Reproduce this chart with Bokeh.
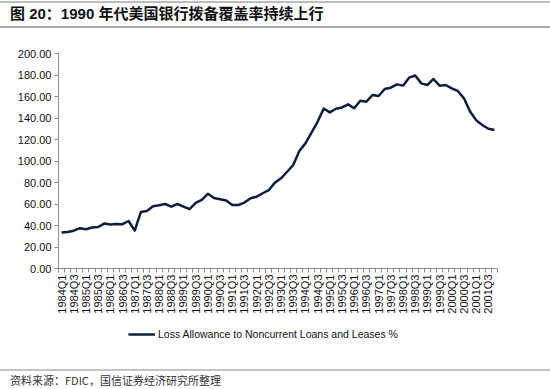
import math
from bokeh.plotting import figure
from bokeh.layouts import column
from bokeh.models import (FactorRange, Range1d, LinearAxis, FixedTicker, Div,
                          Legend, LegendItem, NumeralTickFormatter)
from bokeh.embed import file_html
from bokeh.resources import INLINE

# ---------------- data ----------------
years = list(range(1984, 2002))
quarters = [f"{y}Q{q}" for y in years for q in (1, 2, 3, 4)]
coverage = [
    33.5, 33.9, 35.2, 37.5, 36.5, 38.2, 38.6, 41.8, 40.9, 41.5, 41.2, 44.2,   # 1984-1986
    35.3, 52.5, 53.5, 58.0, 58.8, 60.0, 57.5, 60.0, 57.6, 55.2, 61.0, 63.8,   # 1987-1989
    69.5, 65.5, 64.5, 63.2, 59.1, 59.1, 61.3, 65.3, 66.8, 70.0, 73.0, 79.9,   # 1990-1992
    83.9, 90.0, 96.3, 109.3, 116.4, 126.3, 136.5, 148.9, 145.2, 148.6, 149.8, 152.7,  # 1993-1995
    149.0, 156.1, 155.2, 161.4, 160.5, 167.0, 168.2, 171.3, 170.1, 177.5, 179.5, 172.2,  # 1996-1998
    170.7, 176.3, 170.1, 170.7, 167.6, 165.1, 158.3, 146.0, 138.0, 133.5, 130.0, 128.8,  # 1999-2001
]
y_ticks = [0, 20, 40, 60, 80, 100, 120, 140, 160, 180, 200]
title_text = "图 20：1990 年代美国银行拨备覆盖率持续上行"
series_name = "Loss Allowance to Noncurrent Loans and Leases %"
source_text = "资料来源：FDIC，国信证券经济研究所整理"

W = 550
LATIN = "Liberation Sans"
AXIS_GREY = "#8e8e8e"
LINE_COL = "#0e1f3d"

# ---------------- header ----------------
HH = 40
head = Div(width=W, height=HH, styles={"margin": "0", "padding": "0", "overflow": "hidden"},
           text=(
               f'<div style="position:relative;width:{W}px;height:{HH}px;">'
               f'<div style="position:absolute;left:0;top:1px;width:{W}px;border-top:2px solid #bcbcbc;"></div>'
               f'<div style="position:absolute;left:10px;top:5px;white-space:nowrap;'
               f'font-family:\'Liberation Sans\',\'Noto Sans CJK SC\';font-weight:bold;'
               f'font-size:15px;line-height:18px;color:#111111;">{title_text}</div>'
               f'<div style="position:absolute;left:0;top:26px;width:{W}px;border-top:2px solid #a8a8a8;"></div>'
               f'</div>'))

# ---------------- main chart ----------------
MB_L, MB_R = 58, 53
MB_TOP, FRAME_H, MB_BOT = 13, 215, 52
p = figure(width=W, height=MB_TOP + FRAME_H + MB_BOT, output_backend="svg", toolbar_location=None,
           x_range=FactorRange(factors=quarters, range_padding=0),
           y_range=Range1d(0, 200), x_axis_location=None, y_axis_location=None,
           min_border_left=MB_L, min_border_right=MB_R, min_border_top=MB_TOP,
           min_border_bottom=MB_BOT)
p.grid.visible = False
p.outline_line_color = None

# y axis
yax = LinearAxis(ticker=FixedTicker(ticks=y_ticks), formatter=NumeralTickFormatter(format="0.00"))
yax.axis_line_color = AXIS_GREY
yax.major_tick_line_color = AXIS_GREY
yax.major_tick_out = 4
yax.major_tick_in = 0
yax.minor_tick_line_color = None
yax.major_label_standoff = 3
yax.major_label_text_font = LATIN
yax.major_label_text_font_size = "11px"
yax.major_label_text_color = "#111111"
p.add_layout(yax, "left")

# tick marks on the boundaries between quarters (synthetic category coordinates)
tax = LinearAxis(ticker=FixedTicker(ticks=list(range(len(quarters) + 1))))
tax.axis_line_color = AXIS_GREY
tax.major_tick_line_color = AXIS_GREY
tax.major_tick_out = 4
tax.major_tick_in = 0
tax.minor_tick_line_color = None
tax.major_label_text_font_size = "0px"
tax.major_label_text_color = None
tax.major_label_standoff = 0
p.add_layout(tax, "below")

# quarter labels (Q1 and Q3) at the category centres
shown = [(i, q) for i, q in enumerate(quarters) if q.endswith("Q1") or q.endswith("Q3")]
cax = LinearAxis(ticker=FixedTicker(ticks=[i + 0.5 for i, q in shown]))
cax.major_label_overrides = {i + 0.5: q for i, q in shown}
cax.axis_line_color = None
cax.major_tick_line_color = None
cax.minor_tick_line_color = None
cax.major_tick_out = 0
cax.major_tick_in = 0
cax.major_label_orientation = math.pi / 2
cax.major_label_standoff = 2
cax.major_label_text_font = LATIN
cax.major_label_text_font_size = "11px"
cax.major_label_text_color = "#111111"
p.add_layout(cax, "below")

r = p.line(x=quarters, y=coverage, line_color=LINE_COL, line_width=2.5, line_join="round")

# ---------------- legend strip ----------------
LH = 28
lg = figure(width=W, height=LH, output_backend="svg", toolbar_location=None,
            x_range=FactorRange(factors=quarters, range_padding=0), y_range=Range1d(0, 200),
            min_border_left=MB_L, min_border_right=MB_R, min_border_top=0, min_border_bottom=0)
lg.axis.visible = False
lg.grid.visible = False
lg.outline_line_color = None
key = lg.line(x=quarters, y=coverage, line_color=LINE_COL, line_width=2.5, visible=False)
legend = Legend(items=[LegendItem(label=series_name, renderers=[key])],
                location=(70, 8), orientation="horizontal",
                glyph_width=27, glyph_height=12, label_height=12, label_standoff=3,
                padding=0, margin=0, spacing=0,
                border_line_color=None, background_fill_alpha=0,
                label_text_font=LATIN, label_text_font_size="10.5px",
                label_text_color="#111111")
lg.add_layout(legend, "center")

# ---------------- footer ----------------
FH = 389 - HH - (MB_TOP + FRAME_H + MB_BOT) - LH
foot = Div(width=W, height=FH, styles={"margin": "0", "padding": "0", "overflow": "hidden"},
           text=(
               f'<div style="position:relative;width:{W}px;height:{FH}px;">'
               f'<div style="position:absolute;left:0;top:21px;width:{W}px;border-top:2px solid #c4c4c4;"></div>'
               f'<div style="position:absolute;left:10px;top:26px;white-space:nowrap;'
               f'font-family:\'Noto Sans CJK SC\';font-size:11px;line-height:13px;color:#333333;">{source_text}</div>'
               f'</div>'))

layout = column(head, p, lg, foot, spacing=0)
with open("out.html", "w") as f:
    f.write(file_html(layout, INLINE))
